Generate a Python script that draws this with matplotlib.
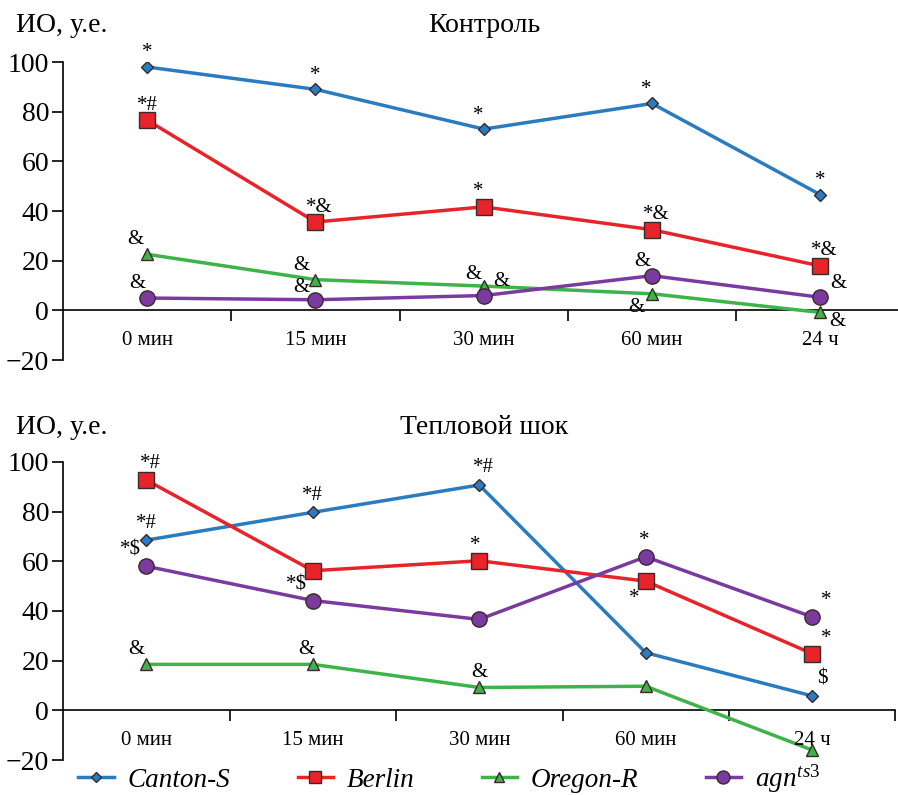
import matplotlib
matplotlib.use('Agg')
import matplotlib.pyplot as plt
from matplotlib.lines import Line2D

plt.rcParams['font.family'] = ['Liberation Serif', 'DejaVu Serif']
plt.rcParams['mathtext.fontset'] = 'custom'
plt.rcParams['mathtext.it'] = 'Liberation Serif:italic'
plt.rcParams['mathtext.rm'] = 'Liberation Serif'

categories = ['0 мин', '15 мин', '30 мин', '60 мин', '24 ч']
series_names = ['Canton-S', 'Berlin', 'Oregon-R', r'$\mathit{agn}^{\mathit{ts3}}$']

# Контроль
ctrl_canton = [98, 89, 73, 83.3, 46.6]
ctrl_berlin = [76.6, 35.6, 41.7, 32.5, 17.9]
ctrl_oregon = [22.6, 12.4, 9.8, 6.7, -0.8]
ctrl_agn = [5, 4.3, 6, 14, 5.3]

# Тепловой шок
hs_canton = [68.5, 79.7, 90.7, 23.2, 5.8]
hs_berlin = [92.7, 56.2, 60.2, 52, 22.8]
hs_oregon = [18.5, 18.5, 9.2, 9.7, -16]
hs_agn = [58, 44.2, 36.6, 61.8, 37.6]

# significance marks
ctrl_canton_sig = ['*', '*', '*', '*', '*']
ctrl_berlin_sig = ['*#', '*&', '*', '*&', '*&']
ctrl_oregon_sig = ['&', '&', '&', '&', '&']
ctrl_agn_sig = ['&', '&', '&', '&', '&']
hs_canton_sig = ['*#', '*#', '*#', '', '$']
hs_berlin_sig = ['*#', '', '*', '*', '*']
hs_oregon_sig = ['&', '&', '&', '', '']
hs_agn_sig = ['*$', '*$', '', '*', '*']

colors = ['#2b7bc0', '#e8242a', '#3db34a', '#7b3aa0']
markers = ['D', 's', '^', 'o']
msizes = [6, 11, 9, 11]

# label offsets (pixels) for each mark
ctrl_offs = [
    [(0, 14), (0, 14), (-6, 14), (-6, 14), (0, 14)],
    [(0, 15), (4, 15), (-6, 15), (4, 15), (4, 15)],
    [(-12, 15), (-14, 14), (-10, 12), (-16, -14), (17, -9)],
    [(-10, 15), (-14, 12), (18, 14), (-10, 14), (18, 14)],
]
hs_offs = [
    [(0, 17), (0, 17), (4, 17), (0, 0), (10, 17)],
    [(4, 17), (0, 0), (-4, 15), (-12, -17), (14, 15)],
    [(-10, 15), (-6, 15), (0, 15), (0, 0), (0, 0)],
    [(-16, 16), (-16, 16), (0, 0), (-2, 16), (14, 16)],
]


def draw_panel(ax, data, sigs, offs, xr):
    x = list(range(len(categories)))
    for k in range(4):
        ax.plot(x, data[k], color=colors[k], lw=2.5, marker=markers[k],
                ms=msizes[k], mfc=colors[k], mec='#3a2a2a', mew=1.0, zorder=3)
        for i, s in enumerate(sigs[k]):
            if s:
                ax.annotate(s, (x[i], data[k][i]), xytext=offs[k][i],
                            textcoords='offset pixels', ha='center', va='center',
                            fontsize=15, zorder=4)
    ax.set_xlim(-0.5, xr)
    ax.set_ylim(-20, 100)
    ax.spines['top'].set_visible(False)
    ax.spines['right'].set_visible(False)
    ax.spines['bottom'].set_position(('data', 0))
    ax.spines['left'].set_linewidth(1.2)
    ax.spines['bottom'].set_linewidth(1.2)
    ax.set_xticks([0.5, 1.5, 2.5, 3.5, 4.5])
    ax.set_xticklabels([])
    ax.tick_params(axis='x', direction='out', length=8, width=1.2)
    ax.set_yticks([-20, 0, 20, 40, 60, 80, 100])
    ax.set_yticklabels(['\u221220', '0', '20', '40', '60', '80', '100'])
    ax.tick_params(axis='y', direction='out', length=8, width=1.2, labelsize=20, pad=2)
    for i, c in enumerate(categories):
        ax.text(i, -12, c, ha='center', va='center', fontsize=15)


fig = plt.figure(figsize=(8.98, 7.95), dpi=100)
ax1 = fig.add_axes([0.0702, 0.547, 0.937, 0.375])
ax2 = fig.add_axes([0.0702, 0.044, 0.927, 0.375])

draw_panel(ax1, [ctrl_canton, ctrl_berlin, ctrl_oregon, ctrl_agn],
           [ctrl_canton_sig, ctrl_berlin_sig, ctrl_oregon_sig, ctrl_agn_sig], ctrl_offs, 4.5)
draw_panel(ax2, [hs_canton, hs_berlin, hs_oregon, hs_agn],
           [hs_canton_sig, hs_berlin_sig, hs_oregon_sig, hs_agn_sig], hs_offs, 4.5)

fig.text(0.018, 1 - 25 / 795, 'ИО, у.е.', fontsize=20, ha='left', va='center')
fig.text(484 / 898, 1 - 25 / 795, 'Контроль', fontsize=20, ha='center', va='center')
fig.text(0.018, 1 - 428 / 795, 'ИО, у.е.', fontsize=20, ha='left', va='center')
fig.text(484 / 898, 1 - 428 / 795, 'Тепловой шок', fontsize=20, ha='center', va='center')

handles = [Line2D([], [], color=colors[k], lw=2.5, marker=markers[k], ms=msizes[k] * 0.85,
                  mfc=colors[k], mec='#3a2a2a', mew=1.0) for k in range(4)]
fig.legend(handles, series_names, loc='center', bbox_to_anchor=(0.5, 1 - 779 / 795),
           ncol=4, frameon=False, prop={'style': 'italic', 'size': 19.5},
           handlelength=1.3, handletextpad=0.5, columnspacing=2.5, borderpad=0)

fig.savefig('out.png', dpi=100)
